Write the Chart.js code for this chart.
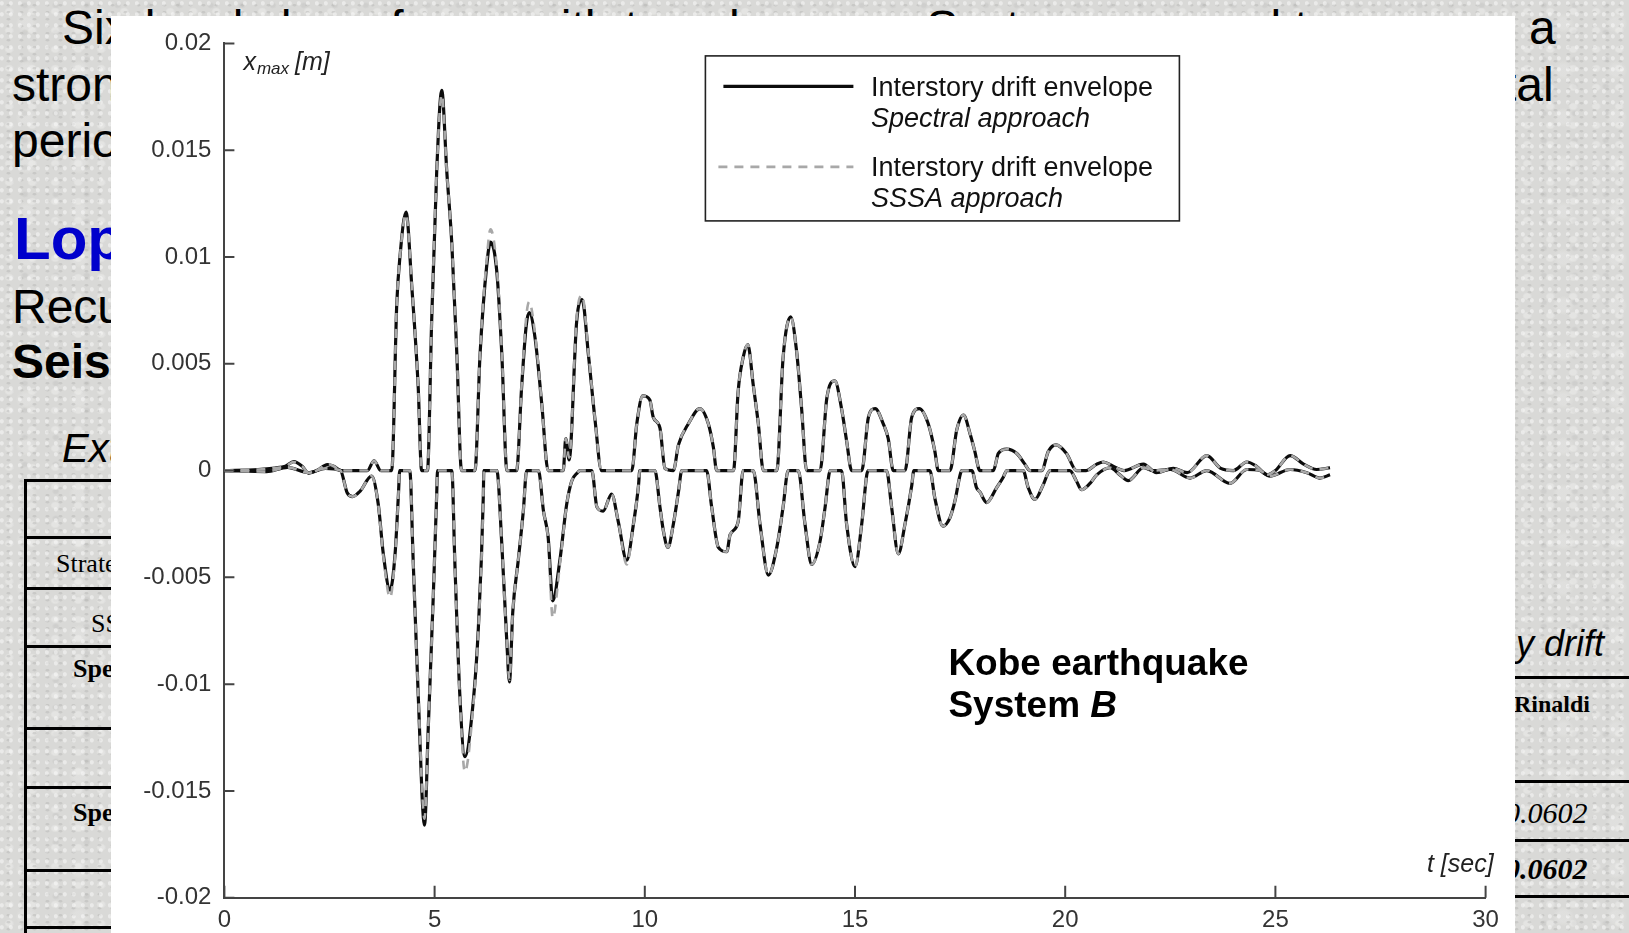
<!DOCTYPE html>
<html>
<head>
<meta charset="utf-8">
<script src="https://cdn.jsdelivr.net/npm/chart.js@4"></script>
<style>
  html, body { margin: 0; padding: 0; }
  body {
    width: 1629px; height: 933px; overflow: hidden; position: relative;
    background-color: #d9d9d7;
    background-image:
      radial-gradient(ellipse at 20% 30%, rgba(255,255,255,0.45) 0 1.5px, transparent 2.5px),
      radial-gradient(ellipse at 65% 75%, rgba(170,170,168,0.35) 0 1.5px, transparent 2.5px),
      radial-gradient(ellipse at 40% 60%, rgba(245,245,243,0.4) 0 3px, transparent 5px),
      radial-gradient(ellipse at 80% 20%, rgba(185,185,183,0.3) 0 2px, transparent 4px),
      radial-gradient(ellipse at 50% 50%, rgba(236,236,234,0.35) 0 6px, transparent 11px);
    background-size: 9px 11px, 13px 7px, 23px 19px, 31px 27px, 53px 47px;
    font-family: "Liberation Sans", Arial, sans-serif;
  }
  .t { position: absolute; white-space: nowrap; line-height: 1; color: #000; }
  .serif { font-family: "Liberation Serif", "Times New Roman", serif; }
  .hl { position: absolute; height: 2.5px; background: #000; }
  .vl { position: absolute; width: 2.5px; background: #000; }
  #chartBox { position: absolute; left: 111px; top: 16px; width: 1404px; height: 917px; background: #fff; }
</style>
</head>
<body>
  <!-- slide text behind the figure -->
  <div class="t" style="left:62px; top:4px; font-size:48px;">Six-level shear frame with two dampers. System exposed to a</div>
  <div class="t" style="left:1529px; top:4px; font-size:48px;">a</div>
  <div class="t" style="left:12px; top:61px; font-size:48px;">strong ground motion record with fundamental</div>
  <div class="t" style="left:1503px; top:61px; font-size:48px;">tal</div>
  <div class="t" style="left:12px; top:117px; font-size:48px;">period T = 0.5 sec</div>
  <div class="t" style="left:14px; top:209px; font-size:60px; font-weight:bold; color:#0000cc;">Lopez-Garcia and Soong</div>
  <div class="t" style="left:12px; top:283px; font-size:48px;">Recursive method</div>
  <div class="t" style="left:12px; top:338px; font-size:48px; font-weight:bold;">Seismic design</div>
  <div class="t" style="left:62px; top:428px; font-size:40px; font-style:italic;">Extreme values</div>

  <div class="vl" style="left:24px; top:479px; height:460px;"></div>
  <div class="hl" style="left:24px; top:479px; width:120px;"></div>
  <div class="hl" style="left:24px; top:536px; width:120px;"></div>
  <div class="hl" style="left:24px; top:587px; width:120px;"></div>
  <div class="hl" style="left:24px; top:645px; width:120px;"></div>
  <div class="hl" style="left:24px; top:727px; width:120px;"></div>
  <div class="hl" style="left:24px; top:786px; width:120px;"></div>
  <div class="hl" style="left:24px; top:869px; width:120px;"></div>
  <div class="hl" style="left:24px; top:926px; width:120px;"></div>
  <div class="t serif" style="left:56px; top:551px; font-size:26px;">Strategy</div>
  <div class="t serif" style="left:91px; top:611px; font-size:26px;">SSSA</div>
  <div class="t serif" style="left:73px; top:656px; font-size:26px; font-weight:bold;">Spectral</div>
  <div class="t serif" style="left:73px; top:800px; font-size:26px; font-weight:bold;">Spectral</div>

  <div class="t" style="left:1516px; top:626px; font-size:36px; font-style:italic;">y drift</div>
  <div class="hl" style="left:1500px; top:676px; width:140px;"></div>
  <div class="t serif" style="left:1514px; top:692px; font-size:24px; font-weight:bold;">Rinaldi</div>
  <div class="hl" style="left:1500px; top:780px; width:140px;"></div>
  <div class="t serif" style="left:1505px; top:798px; font-size:30px; font-style:italic;">0.0602</div>
  <div class="hl" style="left:1500px; top:839px; width:140px;"></div>
  <div class="t serif" style="left:1505px; top:854px; font-size:30px; font-style:italic; font-weight:bold;">0.0602</div>
  <div class="hl" style="left:1500px; top:895px; width:140px;"></div>

  <div id="chartBox"><canvas id="drift"></canvas></div>

<script>
// axis ticks
const xTicks = [0, 5, 10, 15, 20, 25, 30];
const xTickLabels = ["0", "5", "10", "15", "20", "25", "30"];
const yTicks = [-0.02, -0.015, -0.01, -0.005, 0, 0.005, 0.01, 0.015, 0.02];
const yTickLabels = ["-0.02", "-0.015", "-0.01", "-0.005", "0", "0.005", "0.01", "0.015", "0.02"];

const seriesNames = ["Spectral approach", "SSSA approach"];

// [t (sec), x_max (m)]
const spectralUpper = [
  [0,0],[0.8,0.00005],[1.2,0.00012],[1.45,0.0002],[1.65,0.00042],[1.85,0.0002],[2.0,-0.00012],[2.2,0],
  [2.45,0.00028],[2.6,0.0002],[2.78,0],[3.4,0],[3.56,0.00046],[3.72,0],[3.98,0],
  [4.10,0.0078],[4.18,0.0101],[4.32,0.0121],[4.46,0.00855],[4.61,0.0039],[4.69,0],
  [4.83,0],[4.93,0.007],[5.05,0.014],[5.17,0.0178],[5.29,0.014],[5.41,0.0106],[5.53,0.0054],[5.64,0],
  [5.96,0],[6.08,0.0054],[6.24,0.0096],[6.33,0.0107],[6.48,0.0093],[6.60,0.0054],[6.72,0],
  [6.95,0],[7.07,0.0039],[7.18,0.0068],[7.25,0.0074],[7.39,0.0062],[7.55,0.0031],[7.70,0],
  [8.06,0],[8.12,0.0015],[8.20,0.0005],[8.38,0.007],[8.51,0.008],[8.66,0.0054],[8.82,0.0023],[8.97,0],
  [9.69,0],[9.81,0.0022],[9.95,0.0035],[10.12,0.0033],[10.20,0.0025],[10.36,0.002],[10.48,0.0001],
  [10.68,0],[10.80,0.0012],[11.04,0.0022],[11.31,0.0029],[11.51,0.0022],[11.63,0.0011],[11.71,0],
  [12.11,0],[12.22,0.0037],[12.34,0.0053],[12.45,0.0059],[12.58,0.004],[12.70,0.0022],[12.82,0],
  [13.14,0],[13.29,0.0053],[13.47,0.0072],[13.61,0.0056],[13.73,0.0029],[13.85,0],
  [14.17,0],[14.33,0.0034],[14.52,0.0042],[14.68,0.0029],[14.80,0.0014],[14.92,0],
  [15.16,0],[15.32,0.0025],[15.48,0.0029],[15.67,0.0022],[15.79,0.0015],[15.91,0],
  [16.19,0],[16.35,0.0025],[16.53,0.0029],[16.74,0.0022],[16.90,0.0009],[16.98,0],
  [17.26,0],[17.42,0.0019],[17.58,0.0026],[17.74,0.0017],[17.85,0.0009],[17.97,0],
  [18.29,0],[18.41,0.0008],[18.61,0.001],[18.85,0.0008],[19.04,0.0003],[19.16,0],
  [19.44,0],[19.60,0.0009],[19.78,0.0012],[20.03,0.0008],[20.27,0],[20.5,0],
  [20.75,0.0003],[20.91,0.0004],[21.14,0.0002],[21.4,0],[21.86,0.0003],[22.17,-0.0001],[22.57,0.0001],
  [22.9,-0.0001],[23.37,0.0007],[23.7,0.0001],[24.0,0],[24.32,0.0004],[24.55,0.0002],[24.8,-0.0002],
  [25.0,0],[25.35,0.0007],[25.67,0.0003],[25.98,0.00005],[26.3,0.00013]
];

const spectralLower = [
  [0,0],[1.0,-0.00005],[1.5,0.00015],[2.0,-0.0001],[2.4,0.0001],[2.76,0],
  [2.92,-0.00104],[3.05,-0.00122],[3.23,-0.00096],[3.5,-0.00026],[3.66,-0.00158],[3.78,-0.0039],
  [3.94,-0.0056],[4.06,-0.0039],[4.14,-0.0011],[4.17,0],
  [4.41,0],[4.49,-0.0042],[4.61,-0.0105],[4.76,-0.0166],[4.85,-0.012],[4.97,-0.0058],[5.05,-0.0011],[5.07,0],
  [5.41,0],[5.48,-0.0042],[5.60,-0.0105],[5.72,-0.0134],[5.92,-0.0108],[6.04,-0.0074],[6.16,-0.0011],[6.17,0],
  [6.48,0],[6.60,-0.0035],[6.72,-0.0081],[6.78,-0.0099],[6.86,-0.0066],[6.99,-0.0042],[7.11,-0.0019],[7.19,0],
  [7.47,0],[7.59,-0.0019],[7.70,-0.0031],[7.81,-0.0061],[7.98,-0.0042],[8.14,-0.0016],[8.26,-0.0005],[8.40,-0.0001],[8.46,0],
  [8.74,0],[8.86,-0.0017],[9.01,-0.0019],[9.21,-0.0011],[9.37,-0.0024],[9.57,-0.0042],[9.73,-0.0025],[9.85,-0.0007],[9.88,0],
  [10.24,0],[10.36,-0.0017],[10.44,-0.0028],[10.55,-0.0036],[10.68,-0.0025],[10.80,-0.001],[10.88,0],
  [11.47,0],[11.59,-0.0017],[11.75,-0.0036],[11.95,-0.0038],[12.03,-0.003],[12.22,-0.0024],[12.34,0],
  [12.58,0],[12.74,-0.0025],[12.94,-0.0049],[13.14,-0.0036],[13.29,-0.0017],[13.41,0],
  [13.65,0],[13.81,-0.0025],[13.97,-0.0044],[14.17,-0.0033],[14.29,-0.0017],[14.41,0],
  [14.68,0],[14.80,-0.0025],[15.0,-0.0045],[15.16,-0.0025],[15.28,-0.0002],[15.32,0],
  [15.75,0],[15.87,-0.0017],[16.03,-0.0039],[16.19,-0.0025],[16.35,-0.0007],[16.40,0],
  [16.78,0],[16.90,-0.0013],[17.09,-0.0026],[17.26,-0.0022],[17.38,-0.0014],[17.50,-0.0002],[17.54,0],
  [17.78,0],[17.89,-0.0008],[17.97,-0.001],[18.13,-0.0015],[18.37,-0.0008],[18.53,-0.0003],[18.61,0],
  [19.0,0],[19.12,-0.0008],[19.28,-0.00135],[19.48,-0.00065],[19.64,0],
  [20.11,0],[20.27,-0.0005],[20.39,-0.0009],[20.59,-0.0006],[20.75,-0.0002],[21.07,0.00013],[21.3,-0.0002],
  [21.5,-0.00047],[21.86,0.00013],[22.1,0],[22.5,0.00005],[22.97,-0.00035],[23.37,0],[23.92,-0.0006],
  [24.32,0.00005],[24.63,0],[24.87,-0.00026],[25.35,0.00005],[25.75,-0.0001],[26.06,-0.00035],[26.3,-0.0002]
];

const sssaUpper = [
  [0,0],[0.8,0.00005],[1.2,0.00012],[1.45,0.0002],[1.65,0.0004],[1.85,0.0002],[2.0,-0.0001],[2.2,0],
  [2.45,0.0003],[2.6,0.0002],[2.78,0],[3.4,0],[3.56,0.00046],[3.72,0],[3.98,0],
  [4.10,0.0078],[4.18,0.0101],[4.32,0.0120],[4.46,0.0086],[4.61,0.0039],[4.69,0],
  [4.83,0],[4.93,0.007],[5.05,0.014],[5.17,0.0176],[5.29,0.014],[5.41,0.0106],[5.53,0.0054],[5.64,0],
  [5.96,0],[6.08,0.0055],[6.24,0.0099],[6.33,0.0113],[6.48,0.0095],[6.60,0.0055],[6.72,0],
  [6.95,0],[7.07,0.004],[7.18,0.0072],[7.25,0.0079],[7.39,0.0064],[7.55,0.0031],[7.70,0],
  [8.06,0],[8.12,0.0015],[8.20,0.0006],[8.38,0.0072],[8.51,0.0082],[8.66,0.0055],[8.82,0.0023],[8.97,0],
  [9.69,0],[9.81,0.0022],[9.95,0.0035],[10.12,0.0033],[10.20,0.0025],[10.36,0.002],[10.48,0.0001],
  [10.68,0],[10.80,0.0012],[11.04,0.0022],[11.31,0.0029],[11.51,0.0022],[11.63,0.0011],[11.71,0],
  [12.11,0],[12.22,0.0037],[12.34,0.0053],[12.45,0.0059],[12.58,0.004],[12.70,0.0022],[12.82,0],
  [13.14,0],[13.29,0.0053],[13.47,0.0072],[13.61,0.0056],[13.73,0.0029],[13.85,0],
  [14.17,0],[14.33,0.0034],[14.52,0.0042],[14.68,0.0029],[14.80,0.0014],[14.92,0],
  [15.16,0],[15.32,0.0025],[15.48,0.0029],[15.67,0.0022],[15.79,0.0015],[15.91,0],
  [16.19,0],[16.35,0.0025],[16.53,0.0029],[16.74,0.0022],[16.90,0.0009],[16.98,0],
  [17.26,0],[17.42,0.0019],[17.58,0.0026],[17.74,0.0017],[17.85,0.0009],[17.97,0],
  [18.29,0],[18.41,0.0008],[18.61,0.001],[18.85,0.0008],[19.04,0.0003],[19.16,0],
  [19.44,0],[19.60,0.0009],[19.78,0.0012],[20.03,0.0008],[20.27,0],[20.5,0],
  [20.75,0.0003],[20.91,0.0004],[21.14,0.0002],[21.4,0],[21.86,0.0003],[22.17,-0.0001],[22.57,0.0001],
  [22.9,-0.0001],[23.37,0.0007],[23.7,0.0001],[24.0,0],[24.32,0.0004],[24.55,0.0002],[24.8,-0.0002],
  [25.0,0],[25.35,0.0007],[25.67,0.0003],[25.98,0.00005],[26.3,0.00013]
];

const sssaLower = [
  [0,0],[1.0,-0.00005],[1.5,0.00015],[2.0,-0.0001],[2.4,0.0001],[2.76,0],
  [2.92,-0.00104],[3.05,-0.00122],[3.23,-0.00096],[3.5,-0.00026],[3.66,-0.0016],[3.78,-0.004],
  [3.94,-0.00595],[4.06,-0.004],[4.14,-0.0011],[4.17,0],
  [4.41,0],[4.49,-0.0042],[4.61,-0.0104],[4.76,-0.0163],[4.85,-0.012],[4.97,-0.0058],[5.05,-0.0011],[5.07,0],
  [5.41,0],[5.48,-0.0042],[5.60,-0.0106],[5.72,-0.0141],[5.92,-0.011],[6.04,-0.0075],[6.16,-0.0011],[6.17,0],
  [6.48,0],[6.60,-0.0035],[6.72,-0.0081],[6.78,-0.0098],[6.86,-0.0066],[6.99,-0.0042],[7.11,-0.0019],[7.19,0],
  [7.47,0],[7.59,-0.0019],[7.70,-0.0032],[7.81,-0.0069],[7.98,-0.0044],[8.14,-0.0016],[8.26,-0.0005],[8.40,-0.0001],[8.46,0],
  [8.74,0],[8.86,-0.0017],[9.01,-0.0019],[9.21,-0.0011],[9.37,-0.0024],[9.57,-0.0044],[9.73,-0.0025],[9.85,-0.0007],[9.88,0],
  [10.24,0],[10.36,-0.0017],[10.44,-0.0028],[10.55,-0.0036],[10.68,-0.0025],[10.80,-0.001],[10.88,0],
  [11.47,0],[11.59,-0.0017],[11.75,-0.0036],[11.95,-0.0038],[12.03,-0.003],[12.22,-0.0024],[12.34,0],
  [12.58,0],[12.74,-0.0025],[12.94,-0.0049],[13.14,-0.0036],[13.29,-0.0017],[13.41,0],
  [13.65,0],[13.81,-0.0025],[13.97,-0.0044],[14.17,-0.0033],[14.29,-0.0017],[14.41,0],
  [14.68,0],[14.80,-0.0025],[15.0,-0.0045],[15.16,-0.0025],[15.28,-0.0002],[15.32,0],
  [15.75,0],[15.87,-0.0017],[16.03,-0.0039],[16.19,-0.0025],[16.35,-0.0007],[16.40,0],
  [16.78,0],[16.90,-0.0013],[17.09,-0.0026],[17.26,-0.0022],[17.38,-0.0014],[17.50,-0.0002],[17.54,0],
  [17.78,0],[17.89,-0.0008],[17.97,-0.001],[18.13,-0.0015],[18.37,-0.0008],[18.53,-0.0003],[18.61,0],
  [19.0,0],[19.12,-0.0008],[19.28,-0.00135],[19.48,-0.00065],[19.64,0],
  [20.11,0],[20.27,-0.0005],[20.39,-0.0009],[20.59,-0.0006],[20.75,-0.0002],[21.07,0.00013],[21.3,-0.0002],
  [21.5,-0.00047],[21.86,0.00013],[22.1,0],[22.5,0.00005],[22.97,-0.00035],[23.37,0],[23.92,-0.0006],
  [24.32,0.00005],[24.63,0],[24.87,-0.00026],[25.35,0.00005],[25.75,-0.0001],[26.06,-0.00035],[26.3,-0.0002]
];

const toXY = (pts) => pts.map(([x, y]) => ({ x, y }));

const spectralStyle = { borderColor: "#0c0c0c", borderWidth: 3.2, borderDash: [] };
const sssaStyle = { borderColor: "#a8a8a8", borderWidth: 2.6, borderDash: [9, 7] };

// inward tick marks, axis titles, boxed legend and the annotation
const figureDecor = {
  id: "figureDecor",
  afterDraw(chart) {
    const { ctx, chartArea: a, scales: { x, y } } = chart;
    ctx.save();
    ctx.strokeStyle = "#444";
    ctx.lineWidth = 2;
    ctx.beginPath();
    xTicks.forEach((v) => {
      const px = x.getPixelForValue(v);
      ctx.moveTo(px, a.bottom);
      ctx.lineTo(px, a.bottom - 12);
    });
    yTicks.forEach((v) => {
      const py = y.getPixelForValue(v);
      ctx.moveTo(a.left, py);
      ctx.lineTo(a.left + 10, py);
    });
    ctx.stroke();

    // axis titles
    ctx.fillStyle = "#222";
    ctx.textBaseline = "alphabetic";
    ctx.textAlign = "left";
    let tx = a.left + 19;
    ctx.font = 'italic 25px "Liberation Sans"';
    ctx.fillText("x", tx, a.top + 27);
    tx += ctx.measureText("x").width + 1;
    ctx.font = 'italic 17px "Liberation Sans"';
    ctx.fillText("max", tx, a.top + 31);
    tx += ctx.measureText("max").width + 6;
    ctx.font = 'italic 25px "Liberation Sans"';
    ctx.fillText("[m]", tx, a.top + 27);

    ctx.textAlign = "right";
    ctx.fillText("t [sec]", a.right + 8, a.bottom - 26);

    // legend box
    const lx = a.left + 481, ly = a.top + 12.5;
    ctx.strokeStyle = "#222";
    ctx.lineWidth = 1.6;
    ctx.strokeRect(lx, ly, 474, 165);

    ctx.lineWidth = spectralStyle.borderWidth;
    ctx.strokeStyle = spectralStyle.borderColor;
    ctx.setLineDash([]);
    ctx.beginPath();
    ctx.moveTo(a.left + 499, a.top + 43);
    ctx.lineTo(a.left + 629, a.top + 43);
    ctx.stroke();

    ctx.lineWidth = sssaStyle.borderWidth;
    ctx.strokeStyle = sssaStyle.borderColor;
    ctx.setLineDash(sssaStyle.borderDash);
    ctx.beginPath();
    ctx.moveTo(a.left + 494, a.top + 123.5);
    ctx.lineTo(a.left + 629, a.top + 123.5);
    ctx.stroke();
    ctx.setLineDash([]);

    ctx.fillStyle = "#111";
    ctx.textAlign = "left";
    const textX = a.left + 646.5;
    ctx.font = '27px "Liberation Sans"';
    ctx.fillText("Interstory drift envelope", textX, a.top + 53);
    ctx.fillText("Interstory drift envelope", textX, a.top + 133);
    ctx.font = 'italic 27px "Liberation Sans"';
    ctx.fillText(seriesNames[0], textX, a.top + 84);
    ctx.fillText(seriesNames[1], textX, a.top + 164);

    // annotation
    ctx.fillStyle = "#000";
    ctx.font = 'bold 37px "Liberation Sans"';
    const kx = a.left + 724;
    ctx.fillText("Kobe earthquake", kx, a.top + 632);
    ctx.fillText("System ", kx, a.top + 674);
    const sw = ctx.measureText("System ").width;
    ctx.font = 'italic bold 37px "Liberation Sans"';
    ctx.fillText("B", kx + sw, a.top + 674);
    ctx.restore();
  }
};

const tickFont = { family: "Liberation Sans", size: 24 };

new Chart(document.getElementById("drift"), {
  type: "line",
  data: {
    datasets: [
      { label: seriesNames[0], data: toXY(spectralUpper), ...spectralStyle, order: 2 },
      { label: seriesNames[0], data: toXY(spectralLower), ...spectralStyle, order: 2 },
      { label: seriesNames[1], data: toXY(sssaUpper), ...sssaStyle, order: 1 },
      { label: seriesNames[1], data: toXY(sssaLower), ...sssaStyle, order: 1 }
    ]
  },
  options: {
    responsive: true,
    maintainAspectRatio: false,
    animation: false,
    layout: { padding: { top: 26.6, right: 29.4, left: 0, bottom: 0 } },
    elements: {
      point: { radius: 0, hoverRadius: 0 },
      line: { cubicInterpolationMode: "monotone", fill: false }
    },
    plugins: { legend: { display: false }, tooltip: { enabled: false } },
    scales: {
      x: {
        type: "linear",
        min: 0,
        max: 30,
        afterBuildTicks: (axis) => { axis.ticks = xTicks.map((value) => ({ value })); },
        afterFit: (axis) => { axis.height = 35.3; },
        ticks: {
          callback: (v, i) => xTickLabels[i],
          color: "#333",
          font: tickFont,
          padding: 8,
          maxRotation: 0
        },
        grid: { display: false, drawTicks: false },
        border: { display: true, color: "#444", width: 2 }
      },
      y: {
        type: "linear",
        min: -0.02,
        max: 0.02,
        afterBuildTicks: (axis) => { axis.ticks = yTicks.map((value) => ({ value })); },
        afterFit: (axis) => { axis.width = 113.4; },
        ticks: {
          callback: (v, i) => yTickLabels[i],
          color: "#333",
          font: tickFont,
          padding: 13
        },
        grid: { display: false, drawTicks: false },
        border: { display: true, color: "#444", width: 2 }
      }
    }
  },
  plugins: [figureDecor]
});
</script>
</body>
</html>
